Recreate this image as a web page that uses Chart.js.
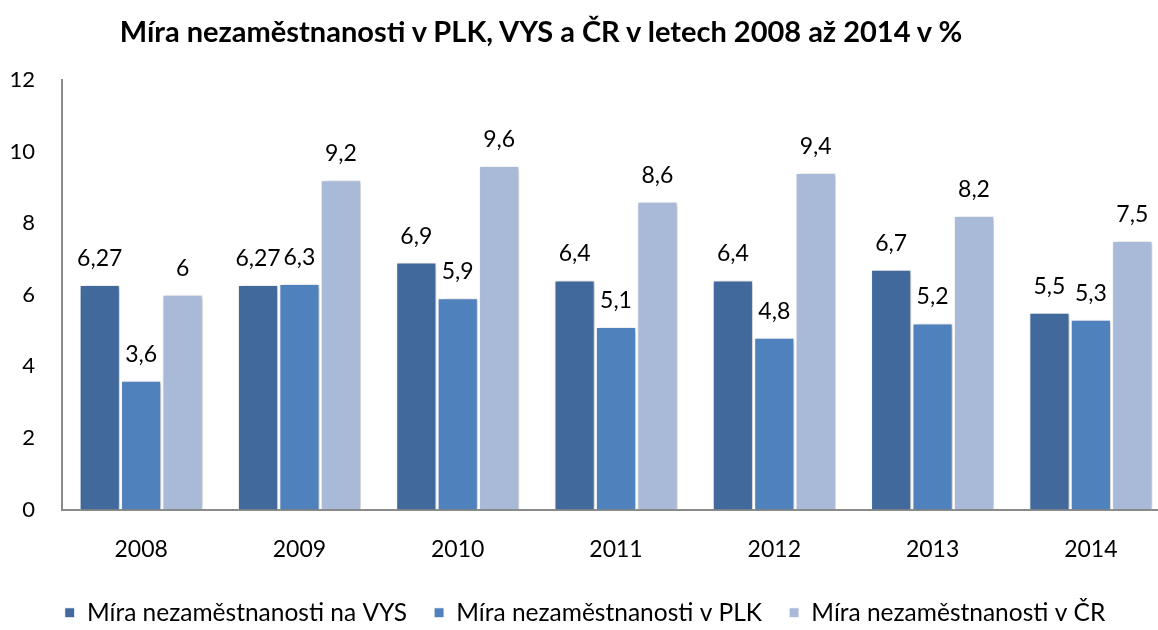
<!DOCTYPE html>
<html><head><meta charset="utf-8">
<script src="https://cdn.jsdelivr.net/npm/chart.js@4.4.1/dist/chart.umd.min.js"></script>
<style>
html,body{margin:0;padding:0;background:#fff;overflow:hidden;width:1158px;height:630px;}
#wrap{position:relative;width:1200px;height:630px;}
#title{position:absolute;left:0;top:13px;width:1082px;text-align:center;font-family:Lato,sans-serif;font-weight:bold;font-size:29px;color:#000;white-space:nowrap;}
</style></head>
<body>
<div id="wrap">
<canvas id="c" width="1200" height="630"></canvas>
<div id="title">Míra nezaměstnanosti v PLK, VYS a ČR v letech 2008 až 2014 v %</div>
</div>
<script>
const categories = ['2008','2009','2010','2011','2012','2013','2014'];
const seriesNames = ['Míra nezaměstnanosti na VYS','Míra nezaměstnanosti v PLK','Míra nezaměstnanosti v ČR'];
const vys = [6.27, 6.27, 6.9, 6.4, 6.4, 6.7, 5.5];
const plk = [3.6, 6.3, 5.9, 5.1, 4.8, 5.2, 5.3];
const cr  = [6, 9.2, 9.6, 8.6, 9.4, 8.2, 7.5];
const yTicks = [0, 2, 4, 6, 8, 10, 12];

const FONT = 'Lato, sans-serif';
const colors = ['#41699C', '#4F81BD', '#A9B9D8'];

const shadowPlugin = {
  id: 'shadow',
  beforeDatasetsDraw(chart) {
    const ctx = chart.ctx;
    ctx.save();
    ctx.shadowColor = 'rgba(0,0,0,0.28)';
    ctx.shadowBlur = 5;
    ctx.shadowOffsetX = 2;
    ctx.shadowOffsetY = 1;
  },
  afterDatasetsDraw(chart) {
    chart.ctx.restore();
  }
};

const labelPlugin = {
  id: 'valueLabels',
  afterDatasetsDraw(chart) {
    const ctx = chart.ctx;
    ctx.save();
    ctx.font = '23px ' + FONT;
    ctx.fillStyle = '#000';
    ctx.textAlign = 'center';
    ctx.textBaseline = 'alphabetic';
    chart.data.datasets.forEach((ds, i) => {
      const meta = chart.getDatasetMeta(i);
      meta.data.forEach((el, j) => {
        const txt = String(ds.data[j]).replace('.', ',');
        ctx.fillText(txt, el.x, el.y - 19);
      });
    });
    ctx.restore();
  }
};

new Chart(document.getElementById('c'), {
  type: 'bar',
  data: {
    labels: categories,
    datasets: [
      { label: seriesNames[0], data: vys, backgroundColor: colors[0] },
      { label: seriesNames[1], data: plk, backgroundColor: colors[1] },
      { label: seriesNames[2], data: cr,  backgroundColor: colors[2] }
    ].map(d => Object.assign(d, { borderColor: '#ffffff', borderWidth: 1, categoryPercentage: 0.785, barPercentage: 0.97 }))
  },
  options: {
    responsive: false,
    animation: false,
    devicePixelRatio: 1,
    layout: { padding: { top: 80, right: 30, left: 0, bottom: -5 } },
    plugins: {
      title: { display: false },
      tooltip: { enabled: false },
      legend: {
        display: true,
        position: 'bottom',
        labels: {
          font: { family: FONT, size: 24.5 },
          color: '#000',
          boxWidth: 10,
          boxHeight: 10,
          padding: 27
        }
      }
    },
    scales: {
      x: {
        grid: { display: false, drawTicks: false },
        border: { display: true, color: '#8a8a8a', width: 2 },
        ticks: { font: { family: FONT, size: 23 }, color: '#000', padding: 26 },
        afterFit(s) { s.height = 64; }
      },
      y: {
        min: 0, max: 12,
        afterBuildTicks(s) { s.ticks = yTicks.map(v => ({ value: v })); },
        grid: { display: false, drawTicks: false },
        border: { display: true, color: '#8a8a8a', width: 2 },
        ticks: { font: { family: FONT, size: 22 }, color: '#000', padding: 27 },
        afterFit(s) { s.width = 62; }
      }
    }
  },
  plugins: [shadowPlugin, labelPlugin]
});
</script>
</body></html>
